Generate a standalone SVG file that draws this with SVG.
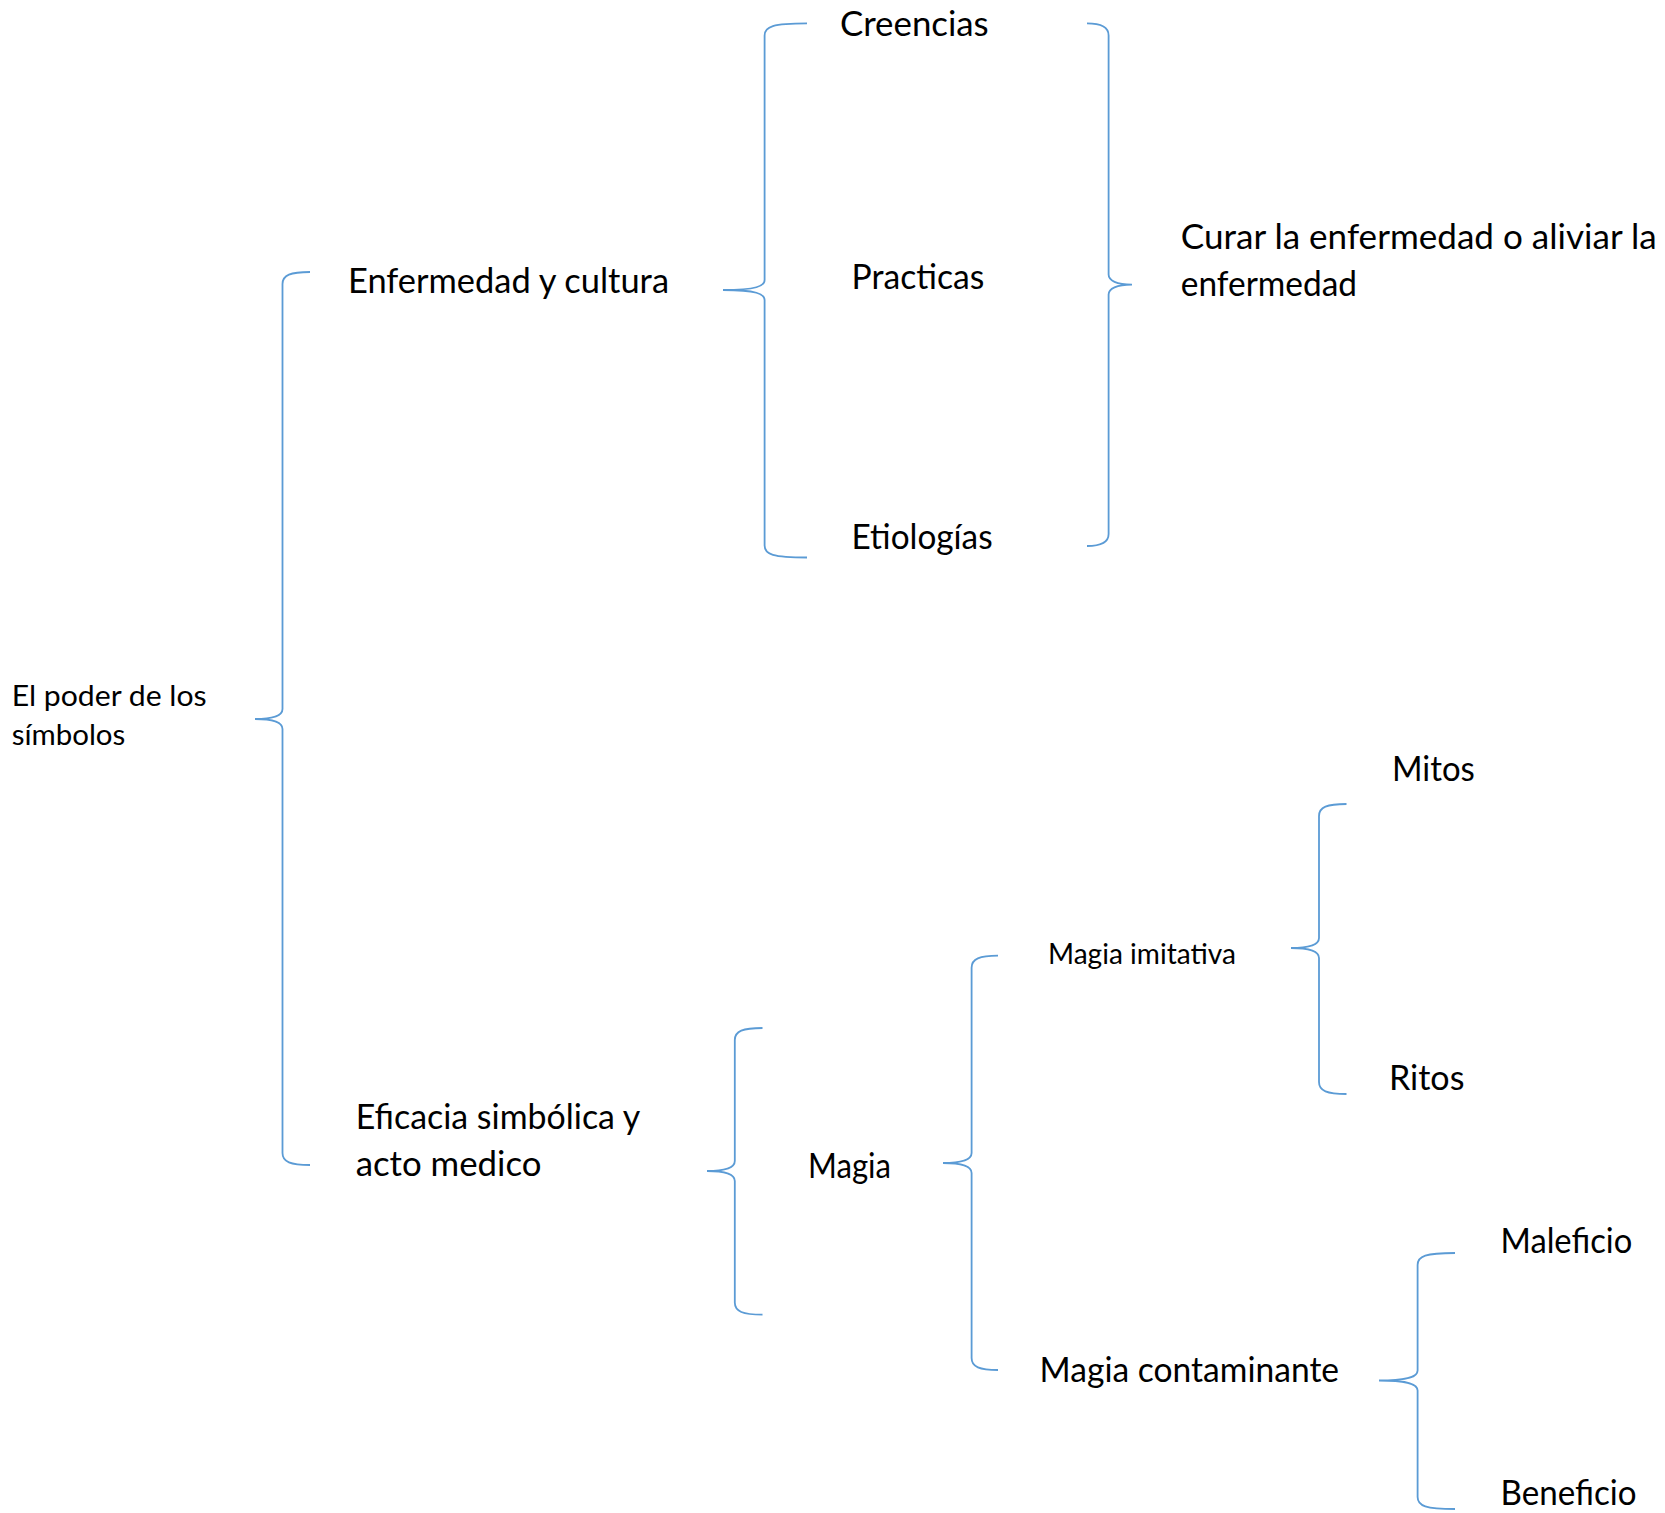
<svg xmlns="http://www.w3.org/2000/svg" width="1665" height="1513" viewBox="0 0 1665 1513">
<style>
.t{font-family:Lato,"Noto Sans","Liberation Sans",sans-serif;fill:#000;font-size:34px}
.s{font-size:28px}
.b{fill:none;stroke:#5B9BD5;stroke-width:1.8;stroke-linecap:butt;stroke-linejoin:round}
</style>
<rect width="1665" height="1513" fill="#fff"/>
<g id="connectors">
<path id="brace-root" class="b" d="M310,272 C290.5,272 282.5,275 282.5,284 L282.5,709 C282.5,715 274.5,719 255,719 M255,719 C274.5,719 282.5,723 282.5,729 L282.5,1153 C282.5,1162 290.5,1165 310,1165"/>
<path id="brace-enf" class="b" d="M807,23.4 C772.6,23.4 764.6,26.4 764.6,35.4 L764.6,280 C764.6,286 756.6,290 723,290 M723,290 C756.6,290 764.6,294 764.6,300 L764.6,545.5 C764.6,554.5 772.6,557.5 807,557.5"/>
<path id="brace-curar" class="b" d="M1087,23.4 C1100.6,23.4 1108.6,26.4 1108.6,35.4 L1108.6,274.6 C1108.6,280.6 1116.6,284.6 1132,284.6 M1132,284.6 C1116.6,284.6 1108.6,288.6 1108.6,294.6 L1108.6,534 C1108.6,543 1100.6,546 1087,546"/>
<path id="brace-efi" class="b" d="M762.5,1028 C742.8,1028 734.8,1031 734.8,1040 L734.8,1161 C734.8,1167 726.8,1171 707,1171 M707,1171 C726.8,1171 734.8,1175 734.8,1181 L734.8,1302.6 C734.8,1311.6 742.8,1314.6 762.5,1314.6"/>
<path id="brace-magia" class="b" d="M998,955.7 C979.6,955.7 971.6,958.7 971.6,967.7 L971.6,1153 C971.6,1159 963.6,1163 943,1163 M943,1163 C963.6,1163 971.6,1167 971.6,1173 L971.6,1358 C971.6,1367 979.6,1370 998,1370"/>
<path id="brace-imit" class="b" d="M1346.5,804 C1327,804 1319,807 1319,816 L1319,938 C1319,944 1311,948 1291,948 M1291,948 C1311,948 1319,952 1319,958 L1319,1082 C1319,1091 1327,1094 1346.5,1094"/>
<path id="brace-cont" class="b" d="M1455,1253 C1425.6,1253 1417.6,1256 1417.6,1265 L1417.6,1370.5 C1417.6,1376.5 1409.6,1380.5 1379,1380.5 M1379,1380.5 C1409.6,1380.5 1417.6,1384.5 1417.6,1390.5 L1417.6,1497 C1417.6,1506 1425.6,1509 1455,1509"/>
</g>
<g id="node-poder"><text class="t s" x="11.7" y="705.5" textLength="195" lengthAdjust="spacingAndGlyphs">El poder de los</text><text class="t s" x="11.7" y="745" textLength="113.6" lengthAdjust="spacingAndGlyphs">símbolos</text></g>
<g id="node-enfermedad"><text class="t" x="348" y="293" textLength="321" lengthAdjust="spacingAndGlyphs">Enfermedad y cultura</text></g>
<g id="node-creencias"><text class="t" x="840" y="36" textLength="148.7" lengthAdjust="spacingAndGlyphs">Creencias</text></g>
<g id="node-practicas"><text class="t" x="851.6" y="288.5" textLength="132.7" lengthAdjust="spacingAndGlyphs">Practicas</text></g>
<g id="node-etiologias"><text class="t" x="851.6" y="548.5" textLength="141" lengthAdjust="spacingAndGlyphs">Etiologías</text></g>
<g id="node-curar"><text class="t" x="1180.8" y="248.5" textLength="475.8" lengthAdjust="spacingAndGlyphs">Curar la enfermedad o aliviar la</text><text class="t" x="1180.8" y="295.5" textLength="176.3" lengthAdjust="spacingAndGlyphs">enfermedad</text></g>
<g id="node-eficacia"><text class="t" x="355.7" y="1128.5" textLength="284.6" lengthAdjust="spacingAndGlyphs">Eficacia simbólica y</text><text class="t" x="355.7" y="1175.5" textLength="185.8" lengthAdjust="spacingAndGlyphs">acto medico</text></g>
<g id="node-magia"><text class="t" x="808" y="1177.5" textLength="83" lengthAdjust="spacingAndGlyphs">Magia</text></g>
<g id="node-imitativa"><text class="t s" x="1048" y="963.6" textLength="188" lengthAdjust="spacingAndGlyphs">Magia imitativa</text></g>
<g id="node-contaminante"><text class="t" x="1039.6" y="1381.5" textLength="299.5" lengthAdjust="spacingAndGlyphs">Magia contaminante</text></g>
<g id="node-mitos"><text class="t" x="1392" y="780.5" textLength="82.8" lengthAdjust="spacingAndGlyphs">Mitos</text></g>
<g id="node-ritos"><text class="t" x="1389" y="1089.5" textLength="75.4" lengthAdjust="spacingAndGlyphs">Ritos</text></g>
<g id="node-maleficio"><text class="t" x="1500.5" y="1252.5" textLength="131.7" lengthAdjust="spacingAndGlyphs">Maleficio</text></g>
<g id="node-beneficio"><text class="t" x="1500.5" y="1504.5" textLength="136" lengthAdjust="spacingAndGlyphs">Beneficio</text></g>
</svg>
